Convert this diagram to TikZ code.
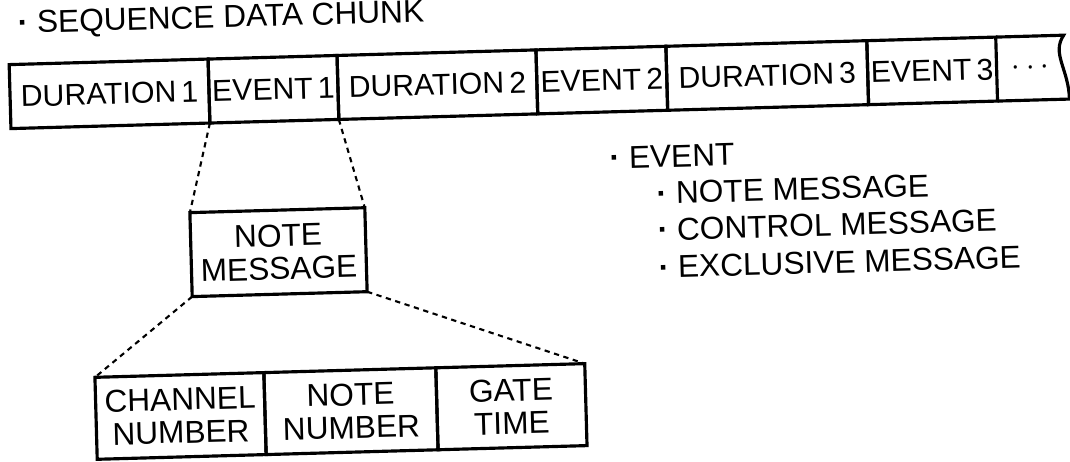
\documentclass[tikz,border=0pt]{standalone}
\usepackage{fontspec}
\setmainfont{Liberation Sans}
\usepackage{tikz}
\usetikzlibrary{positioning,calc}

\tikzset{
    cell/.style={draw, line width=0.9pt, minimum height=0.64cm, inner sep=0pt, outer sep=0pt, font=\fontsize{8.6}{9}\selectfont},
    box/.style={draw, line width=0.9pt, inner sep=0pt, outer sep=0pt, align=center, font=\fontsize{9}{9.4}\selectfont},
    listtext/.style={inner sep=0pt, anchor=base west, font=\fontsize{9}{10}\selectfont},
    zoomline/.style={line width=0.6pt, dash pattern=on 1.5pt off 1.3pt}
}

\begin{document}
\begin{tikzpicture}
    \useasboundingbox (0,0) rectangle (10.7,4.62);
    \begin{scope}[shift={(5.35,2.31)}, rotate=1.6, transform shape]
    % Sequence data chunk
    \node[listtext] (title) at (-5.12,2.12) {\textbf{·} SEQUENCE DATA CHUNK};
    \node[cell, minimum width=1.99cm] (dur1) at (-4.215,1.49) {DURATION\,1};
    \node[cell, minimum width=1.29cm, right=0pt of dur1] (ev1) {EVENT\,1};
    \node[cell, minimum width=1.99cm, right=0pt of ev1] (dur2) {DURATION\,2};
    \node[cell, minimum width=1.30cm, right=0pt of dur2] (ev2) {EVENT\,2};
    \node[cell, minimum width=2.01cm, right=0pt of ev2] (dur3) {DURATION\,3};
    \node[cell, minimum width=1.29cm, right=0pt of dur3] (ev3) {EVENT\,3};
    \node[cell, draw=none, minimum width=0.68cm, right=0pt of ev3] (more) {$\cdots$};
    \draw[line width=0.9pt] (more.north west) -- (more.north east)
        .. controls +(-0.13,-0.18) and +(0,0.3) .. ([xshift=0.04cm]more.south east) -- (more.south west);

    % Note message
    \node[box, minimum width=1.75cm, minimum height=0.84cm] (notemsg) at (-2.57,-0.14) {NOTE\\MESSAGE};
    \draw[zoomline] (ev1.south west) -- (notemsg.north west);
    \draw[zoomline] (ev1.south east) -- (notemsg.north east);

    % Fields
    \node[box, minimum width=1.69cm, minimum height=0.82cm] (chan) at (-3.595,-1.75) {CHANNEL\\NUMBER};
    \node[box, minimum width=1.72cm, minimum height=0.82cm, right=0pt of chan] (notenum) {NOTE\\NUMBER};
    \node[box, minimum width=1.49cm, minimum height=0.82cm, right=0pt of notenum] (gate) {GATE\\TIME};
    \draw[zoomline] (notemsg.south west) -- (chan.north west);
    \draw[zoomline] (notemsg.south east) -- (gate.north east);

    % Event kinds
    \node[listtext] (event) at (0.76,0.60) {\textbf{·} EVENT};
    \node[listtext] (noteitem) at (1.22,0.235) {\textbf{·} NOTE MESSAGE};
    \node[listtext] (ctrlitem) at (1.22,-0.13) {\textbf{·} CONTROL MESSAGE};
    \node[listtext] (exclitem) at (1.22,-0.505) {\textbf{·} EXCLUSIVE MESSAGE};
    \end{scope}
\end{tikzpicture}
\end{document}
